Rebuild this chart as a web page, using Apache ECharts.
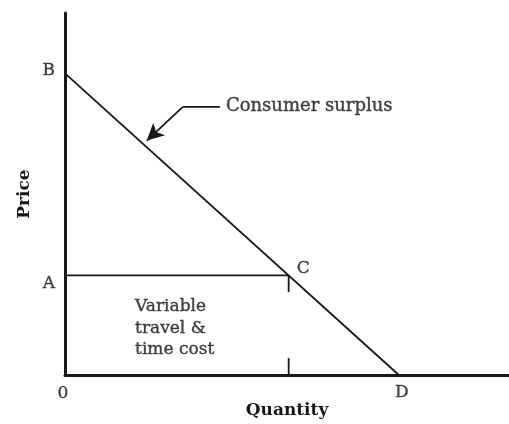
<!DOCTYPE html>
<html>
<head>
<meta charset="utf-8">
<script src="https://cdn.jsdelivr.net/npm/echarts@6/dist/echarts.min.js"></script>
<style>
  html, body { margin: 0; padding: 0; background: #fff; }
  #chart { width: 509px; height: 424px; }
</style>
</head>
<body>
<div id="chart"></div>
<script>
// demand line B -> D
var demand = [[0, 10], [10, 0]];
// price level A to point C
var priceLine = [[0, 3.3], [6.7, 3.3]];
var tickTop = [[6.7, 3.3], [6.7, 2.75]];
var tickBottom = [[6.7, 0], [6.7, 0.56]];
// callout arrow: elbow, then tip on the demand line
var arrowFlat = [[4.64, 8.89], [3.53, 8.89]];
var arrowTip = [2.45, 7.77];
// point labels
var pointNames = ['B', 'A', 'C', 'D', '0'];
var pointCoords = [[0, 10], [0, 3.3], [6.7, 3.3], [10, 0], [0, 0]];
var calloutText = 'Consumer surplus';
var areaText = 'Variable\ntravel &\ntime cost';

var font = 'DejaVu Serif';
var ink = '#1a1718';

var chart = echarts.init(document.getElementById('chart'));

function seg(data, w) {
  return {
    type: 'line', data: data, symbol: 'none', silent: true,
    lineStyle: { color: ink, width: w || 1.8 }
  };
}

// regular text, stroked a little so it reads as dark as the original
function txt(size) {
  return {
    fontFamily: font, fontSize: size, color: ink,
    textBorderColor: ink, textBorderWidth: 0.4
  };
}

var labelPos = {
  B: { position: 'left', offset: [-5, -3] },
  A: { position: 'left', offset: [-5, 8] },
  C: { position: 'right', offset: [3, -7] },
  D: { position: 'bottom', offset: [3, 4] },
  '0': { position: 'bottom', offset: [-2, 5] }
};

var option = {
  animation: false,
  grid: { left: 65, right: 0, top: 13, bottom: 44 },
  xAxis: {
    type: 'value', min: 0, max: 13.3,
    name: 'Quantity', nameLocation: 'middle', nameGap: 27,
    nameTextStyle: { fontFamily: font, fontWeight: 'bold', fontSize: 17, color: ink },
    axisLine: { lineStyle: { color: ink, width: 3 } },
    axisTick: { show: false }, axisLabel: { show: false }, splitLine: { show: false }
  },
  yAxis: {
    type: 'value', min: 0, max: 12,
    name: 'Price', nameLocation: 'middle', nameGap: 32, nameRotate: 90,
    nameTextStyle: { fontFamily: font, fontWeight: 'bold', fontSize: 17, color: ink },
    axisLine: { lineStyle: { color: ink, width: 3 } },
    axisTick: { show: false }, axisLabel: { show: false }, splitLine: { show: false }
  },
  series: [
    seg(demand),
    seg(priceLine),
    seg(tickTop),
    seg(tickBottom),
    Object.assign(seg(arrowFlat), {
      markLine: {
        silent: true, animation: false,
        lineStyle: { color: ink, width: 1.8, type: 'solid' },
        label: { show: false },
        symbolSize: [13, 17],
        data: [[
          { coord: arrowFlat[1], symbol: 'none' },
          { coord: arrowTip, symbol: 'arrow' }
        ]]
      }
    }),
    {
      type: 'scatter', symbolSize: 0, silent: true,
      data: pointNames.map(function (n, i) {
        return {
          value: pointCoords[i],
          label: Object.assign({ show: true, formatter: n }, txt(17), labelPos[n])
        };
      })
    },
    {
      type: 'scatter', symbolSize: 0, silent: true,
      data: [
        {
          value: arrowFlat[0],
          label: Object.assign({ show: true, position: 'right', distance: 6,
            formatter: calloutText }, txt(18))
        },
        {
          value: [2.1, 1.54],
          label: Object.assign({ show: true, position: 'right', distance: 0,
            formatter: areaText, lineHeight: 21.5, align: 'left' }, txt(17))
        }
      ]
    }
  ]
};

chart.setOption(option);
</script>
</body>
</html>
